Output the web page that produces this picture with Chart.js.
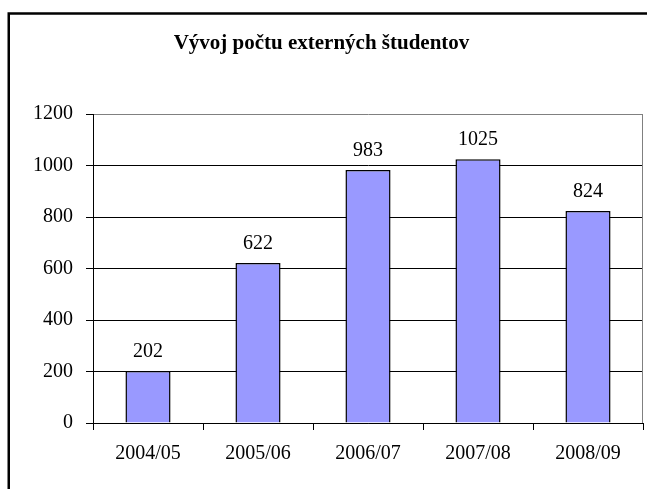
<!DOCTYPE html>
<html>
<head>
<meta charset="utf-8">
<title>Vývoj počtu externých študentov</title>
<script src="https://cdn.jsdelivr.net/npm/chart.js@4/dist/chart.umd.min.js"></script>
<style>
  html, body { margin: 0; padding: 0; background: #fff; }
  #wrap { position: relative; width: 647px; height: 489px; }
</style>
</head>
<body>
<div id="wrap"><canvas id="graf"></canvas></div>
<script>
// Údaje grafu
const roky = ['2004/05', '2005/06', '2006/07', '2007/08', '2008/09'];
const pocty = [202, 622, 983, 1025, 824];
const osY = [0, 200, 400, 600, 800, 1000, 1200];

const pismo = "'Liberation Serif', 'Times New Roman', serif";

// Rámik okolo celého grafu
const ramik = {
  id: 'ramik',
  beforeDraw(chart) {
    const ctx = chart.ctx;
    ctx.save();
    ctx.fillStyle = '#fff';
    ctx.fillRect(0, 0, chart.width, chart.height);
    ctx.lineWidth = 2.5;
    ctx.strokeStyle = '#000';
    ctx.strokeRect(8.75, 13.5, chart.width + 20, chart.height + 20);
    ctx.restore();
  },
  afterDraw(chart) {
    // sivý pravý okraj plochy grafu
    const a = chart.chartArea;
    const ctx = chart.ctx;
    ctx.save();
    ctx.strokeStyle = '#808080';
    ctx.lineWidth = 1;
    ctx.beginPath();
    ctx.moveTo(Math.round(a.right) - 0.5, a.top);
    ctx.lineTo(Math.round(a.right) - 0.5, a.bottom);
    ctx.stroke();
    ctx.restore();
  }
};

// Hodnoty nad stĺpcami
const hodnoty = {
  id: 'hodnoty',
  afterDatasetsDraw(chart) {
    const ctx = chart.ctx;
    const meta = chart.getDatasetMeta(0);
    ctx.save();
    ctx.font = '20px ' + pismo;
    ctx.fillStyle = '#000';
    ctx.textAlign = 'center';
    ctx.textBaseline = 'alphabetic';
    meta.data.forEach((bar, i) => {
      ctx.fillText(String(pocty[i]), bar.x, bar.y - 14);
    });
    ctx.restore();
  }
};

new Chart(document.getElementById('graf'), {
  type: 'bar',
  data: {
    labels: roky,
    datasets: [{
      data: pocty,
      backgroundColor: '#9999ff',
      borderColor: '#000',
      borderWidth: 1.5,
      barPercentage: 0.41,
      categoryPercentage: 1
    }]
  },
  options: {
    responsive: true,
    maintainAspectRatio: false,
    animation: false,
    layout: { padding: { left: 0, right: 4, top: 0, bottom: 0 } },
    plugins: {
      legend: { display: false },
      tooltip: { enabled: false },
      title: {
        display: true,
        text: 'Vývoj počtu externých študentov',
        color: '#000',
        font: { family: pismo, size: 21, weight: 'bold' },
        padding: { top: 31, bottom: 58 }
      }
    },
    scales: {
      x: {
        afterFit(scale) { scale.height = 66; },
        grid: {
          offset: true,
          drawOnChartArea: false,
          drawTicks: true,
          tickLength: 7,
          color: '#000'
        },
        border: { display: true, color: '#000', width: 1 },
        ticks: {
          color: '#000',
          padding: 12,
          font: { family: pismo, size: 20 }
        }
      },
      y: {
        min: 0,
        max: 1200,
        afterFit(scale) { scale.width = 93; },
        afterBuildTicks(scale) { scale.ticks = osY.map(v => ({ value: v })); },
        grid: {
          color: ctx => (ctx.tick && ctx.tick.value === 1200 ? '#808080' : '#000'),
          tickColor: '#000',
          drawTicks: true,
          tickLength: 7,
          lineWidth: 1
        },
        border: { display: true, color: '#000', width: 1 },
        ticks: {
          color: '#000',
          padding: 13,
          font: { family: pismo, size: 20 },
          callback: v => String(v)
        }
      }
    }
  },
  plugins: [ramik, hodnoty]
});
</script>
</body>
</html>
